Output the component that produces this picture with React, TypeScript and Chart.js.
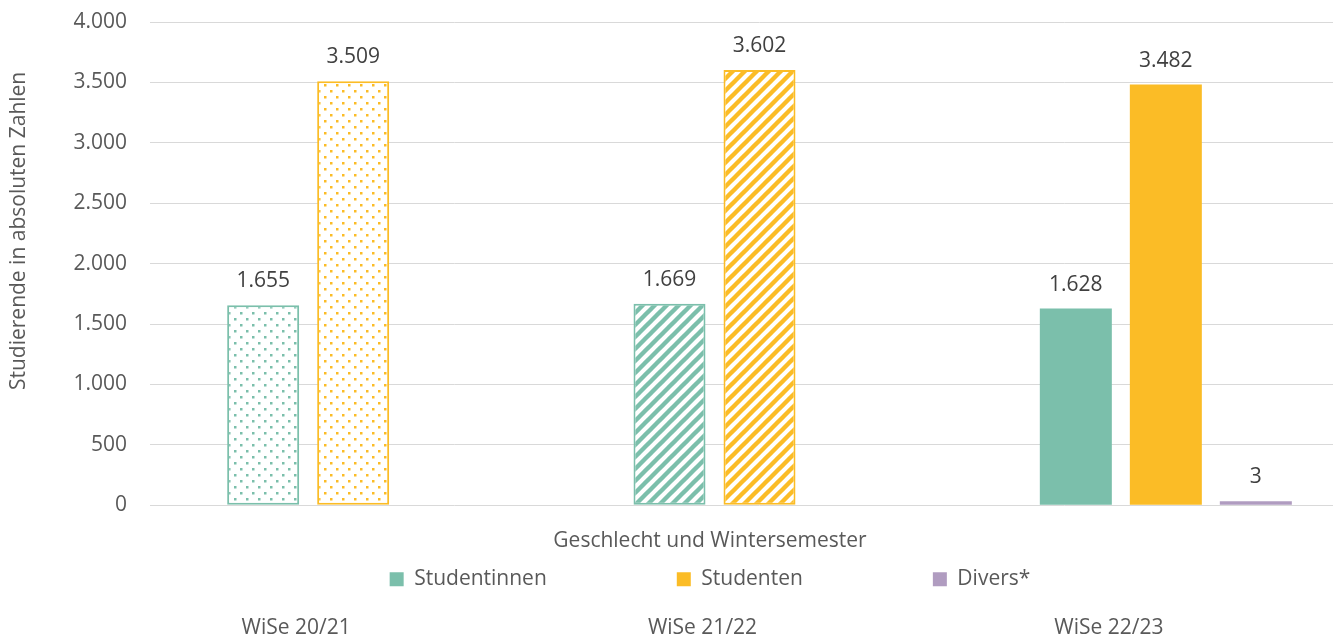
import { useEffect, useRef } from 'react';
import { Chart, registerables } from 'chart.js';

Chart.register(...registerables);

const categories = ['WiSe 20/21', 'WiSe 21/22', 'WiSe 22/23'];
const seriesNames = ['Studentinnen', 'Studenten', 'Divers*'];
const studentinnen = [1655, 1669, 1628];
const studenten = [3509, 3602, 3482];
const divers = [null, null, 3];
const seriesColors = ['#7bbfab', '#fbbc26', '#b09cc0'];
const semesterFills = ['dots', 'stripes', 'solid'];
const yTitle = 'Studierende in absoluten Zahlen';
const xTitle = 'Geschlecht und Wintersemester';

const FONT = '"Open Sans", sans-serif';
const TICK_COLOR = '#595959';
const LABEL_COLOR = '#404040';

function fmt(v: number | string): string {
  return String(v).replace(/\B(?=(\d{3})+(?!\d))/g, '.');
}

function makeDots(color: string): CanvasPattern | string {
  const c = document.createElement('canvas');
  c.width = 12;
  c.height = 12;
  const g = c.getContext('2d');
  if (!g) return color;
  g.fillStyle = '#ffffff';
  g.fillRect(0, 0, 12, 12);
  g.fillStyle = color;
  g.fillRect(0, 0, 2.5, 2.5);
  g.fillRect(6, 6, 2.5, 2.5);
  return g.createPattern(c, 'repeat') || color;
}

function makeStripes(color: string): CanvasPattern | string {
  const P = 12;
  const c = document.createElement('canvas');
  c.width = P;
  c.height = P;
  const g = c.getContext('2d');
  if (!g) return color;
  g.fillStyle = '#ffffff';
  g.fillRect(0, 0, P, P);
  g.strokeStyle = color;
  g.lineWidth = 4.4;
  g.lineCap = 'square';
  for (let k = -1; k <= 1; k++) {
    g.beginPath();
    g.moveTo(k * P - 2, P + 2);
    g.lineTo(k * P + P + 2, -2);
    g.stroke();
  }
  return g.createPattern(c, 'repeat') || color;
}

function fillFor(kind: string, color: string) {
  if (kind === 'dots') return makeDots(color);
  if (kind === 'stripes') return makeStripes(color);
  return color;
}

const valueLabels = {
  id: 'valueLabels',
  afterDatasetsDraw(chart: any) {
    const ctx = chart.ctx;
    ctx.save();
    ctx.font = `21px ${FONT}`;
    ctx.fillStyle = LABEL_COLOR;
    ctx.textAlign = 'center';
    ctx.textBaseline = 'middle';
    chart.data.datasets.forEach((ds: any, i: number) => {
      const meta = chart.getDatasetMeta(i);
      meta.data.forEach((el: any, j: number) => {
        const v = ds.data[j];
        if (v === null || v === undefined) return;
        ctx.fillText(fmt(v), el.x, el.y - 24);
      });
    });
    ctx.restore();
  },
};

export default function App() {
  const ref = useRef<HTMLCanvasElement>(null);

  useEffect(() => {
    if (!ref.current) return;
    const series = [studentinnen, studenten, divers];
    const datasets = series.map((data, i) => {
      const color = seriesColors[i];
      return {
        label: seriesNames[i],
        data,
        xAxisID: 'x',
        yAxisID: 'y',
        backgroundColor: semesterFills.map((k) => fillFor(k, color)),
        borderColor: color,
        borderWidth: semesterFills.map((k) => (k === 'solid' ? 0 : 2)),
        borderSkipped: false,
        categoryPercentage: 0.6645,
        barPercentage: 0.8,
        minBarLength: i === 2 ? 4 : 0,
      };
    });

    const chart = new Chart(ref.current, {
      type: 'bar',
      data: { labels: categories, datasets: datasets as any },
      plugins: [valueLabels],
      options: {
        animation: false,
        responsive: false,
        devicePixelRatio: 1,
        layout: { padding: { top: 22, left: 0, right: 0, bottom: 0 } },
        plugins: {
          tooltip: { enabled: false },
          legend: {
            position: 'bottom',
            align: 'center',
            title: {
              display: true,
              text: xTitle,
              color: TICK_COLOR,
              font: { family: FONT, size: 21 },
              padding: { top: 25.5, bottom: 2.8 } as any,
            },
            labels: {
              boxWidth: 14,
              boxHeight: 14,
              padding: 10,
              color: TICK_COLOR,
              font: { family: FONT, size: 21 },
              generateLabels: () =>
                seriesNames.map((n, i) => ({
                  text: i < seriesNames.length - 1 ? n + ' '.repeat(22) : n,
                  fillStyle: seriesColors[i],
                  strokeStyle: seriesColors[i],
                  lineWidth: 0,
                  hidden: false,
                  datasetIndex: i,
                  fontColor: TICK_COLOR,
                })),
            },
          },
        },
        scales: {
          x: {
            type: 'category',
            axis: 'x',
            display: false,
          },
          x2: {
            type: 'category',
            axis: 'x',
            position: 'bottom',
            labels: categories,
            offset: true,
            weight: 2000,
            grid: { display: false, drawTicks: false },
            border: { display: false },
            ticks: {
              color: TICK_COLOR,
              font: { family: FONT, size: 21 },
              padding: 16,
              labelOffset: -57,
              autoSkip: false,
              maxRotation: 0,
            },
          },
          y: {
            type: 'linear',
            position: 'left',
            min: 0,
            max: 4000,
            ticks: {
              stepSize: 500,
              padding: 0,
              color: TICK_COLOR,
              font: { family: FONT, size: 21 },
              callback: (v: any) => fmt(v),
            },
            grid: {
              color: '#d9d9d9',
              lineWidth: 1,
              drawTicks: true,
              tickLength: 23,
              tickColor: 'rgba(0,0,0,0)',
            },
            border: { display: false },
            title: {
              display: true,
              text: ' '.repeat(12) + yTitle,
              color: TICK_COLOR,
              font: { family: FONT, size: 21 },
              padding: { top: 6, bottom: 0 },
            },
            afterFit: (s: any) => {
              s.width = 150;
            },
          },
          y2: {
            type: 'linear',
            position: 'right',
            display: true,
            grid: { display: false, drawTicks: false },
            border: { display: false },
            ticks: { display: false },
            afterFit: (s: any) => {
              s.width = 51;
            },
          },
        },
      } as any,
    });
    return () => chart.destroy();
  }, []);

  return (
    <div
      style={{
        position: 'fixed',
        left: 0,
        top: 0,
        width: 1333,
        height: 635,
        overflow: 'hidden',
        background: '#ffffff',
      }}
    >
      <canvas ref={ref} width={1420} height={657} style={{ display: 'block' }} />
    </div>
  );
}
